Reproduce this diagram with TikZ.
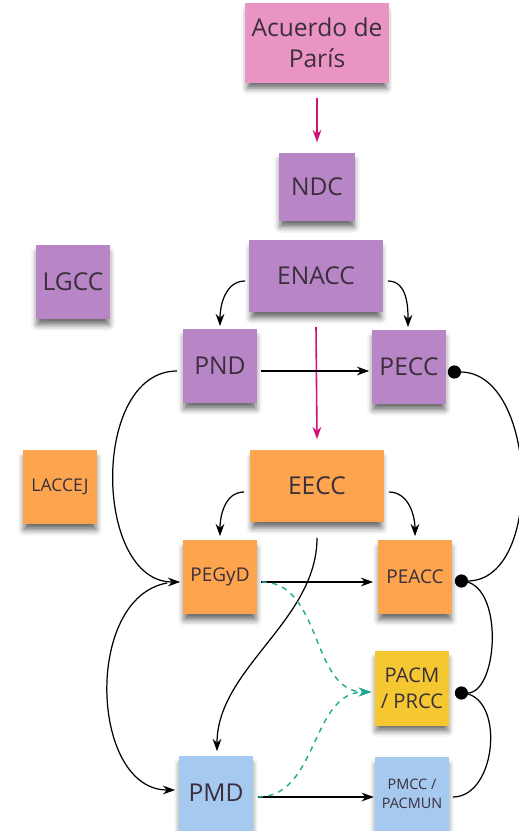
\documentclass[tikz,border=0pt]{standalone}
\usepackage{fontspec}
\setmainfont{Open Sans}
\usetikzlibrary{arrows.meta,calc,shadows.blur}

\definecolor{pinknote}{HTML}{EA94C4}
\definecolor{purplenote}{HTML}{B886C6}
\definecolor{orangenote}{HTML}{FDA44F}
\definecolor{yellownote}{HTML}{F5C731}
\definecolor{bluenote}{HTML}{A6C9F0}
\definecolor{magentaline}{HTML}{D3117B}
\definecolor{tealline}{HTML}{1FAA8F}
\definecolor{notetext}{HTML}{3A2F3A}

\begin{document}
\begin{tikzpicture}[x=0.02cm,y=-0.02cm,
  note/.style={inner sep=0pt,align=center,text=notetext,
    blur shadow={shadow xshift=0pt,shadow yshift=-4pt,shadow scale=0.96,
      shadow blur radius=3.5pt,shadow opacity=60}},
  wide note/.style={note,minimum width=2.7cm,minimum height=1.46cm},
  small note/.style={note,minimum width=1.5cm,minimum height=1.5cm},
  big label/.style={font=\fontsize{14}{17.6}\selectfont},
  mid label/.style={font=\fontsize{10.8}{13}\selectfont},
  >={Stealth[length=7pt,width=5pt]},
  link/.style={black,line width=0.7pt},
  flow/.style={magentaline,line width=0.9pt,->},
  hint/.style={tealline,line width=0.8pt,dashed,dash pattern=on 3pt off 3pt,->}]
\useasboundingbox (0,0) rectangle (518,831);

% notes
\node[note,big label,fill=pinknote,minimum width=2.9cm,minimum height=1.6cm] (acuerdo) at (317,43) {Acuerdo de\\París};
\node[small note,big label,fill=purplenote,minimum width=1.54cm,minimum height=1.38cm] (ndc) at (317,187) {NDC};
\node[wide note,big label,fill=purplenote] (enacc) at (316,276) {ENACC};
\node[small note,big label,fill=purplenote] (lgcc) at (73,282) {LGCC};
\node[small note,big label,fill=purplenote] (pnd) at (220,366) {PND};
\node[small note,big label,fill=purplenote] (pecc) at (409,367) {PECC};
\node[small note,font=\fontsize{10}{12}\selectfont,fill=orangenote] (laccej) at (60,487) {LACCEJ};
\node[wide note,big label,fill=orangenote] (eecc) at (317,486) {EECC};
\node[small note,mid label,fill=orangenote] (pegyd) at (220,577) {PEGyD};
\node[small note,mid label,fill=orangenote] (peacc) at (415,577) {PEACC};
\node[small note,font=\fontsize{11.5}{15}\selectfont,fill=yellownote] (pacm) at (412,688) {PACM\\/ PRCC};
\node[small note,big label,fill=bluenote] (pmd) at (216,793) {PMD};
\node[small note,font=\fontsize{8.2}{11}\selectfont,fill=bluenote] (pmcc) at (412,794) {PMCC /\\PACMUN};

% main line
\draw[flow] ($(acuerdo.south)+(0,15)$) -- ($(ndc.north)+(0,-10)$);
\draw[flow] ($(enacc.south)+(0,14)$) -- ($(eecc.north)+(0,-10)$);

% links
\draw[link,->] ($(enacc.west)+(-3,5)$) to[out=180,in=90] ($(pnd.north)+(0,-2)$);
\draw[link,->] ($(enacc.east)+(4,5)$) to[out=0,in=90] ($(pecc.north)+(-1,-2)$);
\draw[link,->] ($(pnd.east)+(3,5)$) -- ($(pecc.west)+(-2,4)$);
\draw[link,->] ($(pnd.west)+(-5,5)$) to[out=180,in=180,looseness=1.05] ($(pegyd.west)+(-2,5)$);
\draw[link,{Circle[length=7.5pt]}-{Circle[length=7.5pt]}] ($(pecc.east)+(1,5)$) to[out=0,in=0,looseness=1.1] ($(peacc.east)+(2,4)$);
\draw[link,->] ($(eecc.west)+(-5,6)$) to[out=180,in=90] ($(pegyd.north)+(0,-3)$);
\draw[link,->] ($(eecc.east)+(4,6)$) to[out=0,in=90] ($(peacc.north)+(0,-3)$);
\draw[link,->] ($(pegyd.east)+(3,5)$) -- ($(peacc.west)+(-4,5)$);
\draw[link,-{Circle[length=7.5pt]}] ($(peacc.east)+(8,4)$) to[out=0,in=0,looseness=1] ($(pacm.east)+(5,5)$);
\draw[link] ($(pacm.east)+(11,5)$) to[out=0,in=0,looseness=1.1] ($(pmcc.east)+(3,3)$);
\draw[link,->] ($(eecc.south)+(0,15)$) to[out=270,in=90,looseness=0.9] ($(pmd.north)+(1,-4)$);
\draw[link,->] ($(pegyd.west)+(-15,6)$) to[out=190,in=180,looseness=1.05] ($(pmd.west)+(-3,-3)$);
\draw[link,->] ($(pmd.east)+(4,4)$) -- ($(pmcc.east)+(-76,3)$);

% hints
\draw[hint] ($(pegyd.east)+(4,5)$) to[out=0,in=180] ($(pacm.west)+(-3,4)$);
\draw[hint] ($(pmd.east)+(4,4)$) to[out=0,in=180] ($(pacm.west)+(-3,4)$);
\end{tikzpicture}
\end{document}
